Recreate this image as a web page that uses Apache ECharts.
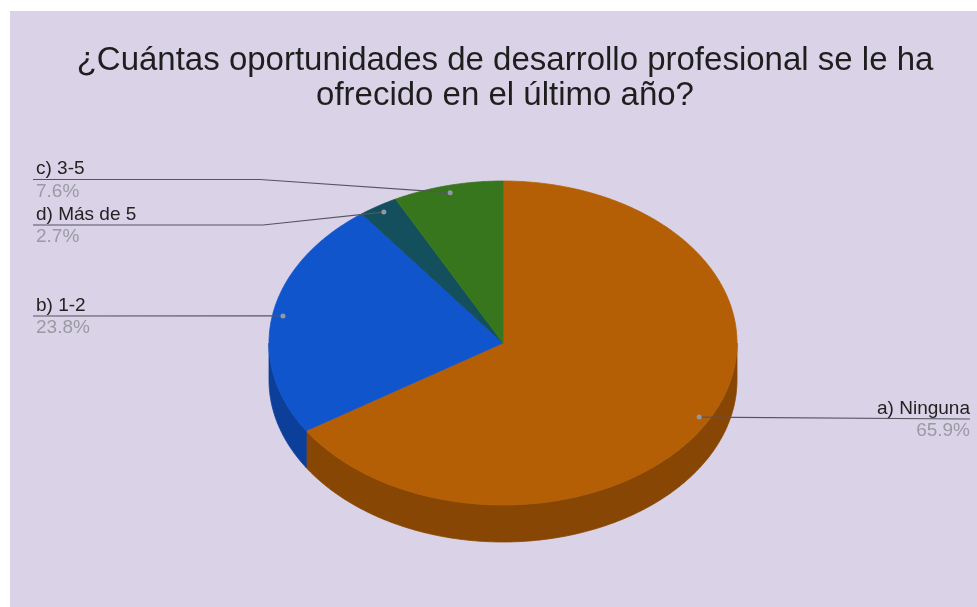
<!DOCTYPE html>
<html>
<head>
<meta charset="utf-8">
<script src="https://cdn.jsdelivr.net/npm/echarts@6/dist/echarts.min.js"></script>
<style>
  html, body { margin: 0; padding: 0; background: #ffffff; }
  #chart { position: absolute; left: 10px; top: 11px; width: 967px; height: 596px; }
</style>
</head>
<body>
<div id="chart"></div>
<script>
// Survey answers, in the order the slices run clockwise from 12 o'clock
const categories = ['a) Ninguna', 'b) 1-2', 'd) Más de 5', 'c) 3-5'];
const shares = [65.9, 23.8, 2.7, 7.6];
const titleText = '¿Cuántas oportunidades de desarrollo profesional se le ha\nofrecido en el último año?';

// Slice colours (top face and darker rim)
const topColors = ['#b45f06', '#1155cc', '#134f5c', '#38761d'];
const sideColors = ['#874604', '#0c3f9a', '#0d3a44', '#285615'];

// Tilted-disc geometry (chart pixel space)
const CX = 493, CY = 332, RX = 234, RY = 162, DEPTH = 37;
const DOT_R = 0.955;

// Leader-line placement for each label
const labelLayout = [
  { side: 'right', lineY: 408, endX: 960, textX: 960 },
  { side: 'left', lineY: 305, endX: 23, textX: 26 },
  { side: 'left', lineY: 214, endX: 23, textX: 26, elbowX: 253 },
  { side: 'left', lineY: 168.5, endX: 23, textX: 26, elbowX: 250 }
];

const FONT = "'Liberation Sans', Arial, sans-serif";
const total = shares.reduce((a, b) => a + b, 0);

function pt(theta, f, dy) {
  return [CX + RX * f * Math.sin(theta), CY - RY * f * Math.cos(theta) + (dy || 0)];
}
function arc(t0, t1, dy) {
  const n = Math.max(2, Math.ceil((t1 - t0) / (Math.PI / 360)));
  const out = [];
  for (let k = 0; k <= n; k++) out.push(pt(t0 + (t1 - t0) * k / n, 1, dy));
  return out;
}
function sliceAngles(i, v) {
  let before = 0;
  for (let k = 0; k < i; k++) before += shares[k];
  return [before / total * 2 * Math.PI, (before + v) / total * 2 * Math.PI];
}

function renderSlice(params, api) {
  const i = params.dataIndex;
  const [t0, t1] = sliceAngles(i, api.value(0));
  const children = [];
  const a = Math.max(t0, Math.PI / 2), b = Math.min(t1, 3 * Math.PI / 2);
  if (a < b) {
    const edge = arc(a, b, 0);
    const lower = arc(a, b, DEPTH).reverse();
    children.push({
      type: 'polygon',
      shape: { points: edge.concat(lower) },
      style: { fill: sideColors[i], stroke: sideColors[i], lineWidth: 0.8 }
    });
  }
  children.push({
    type: 'polygon',
    shape: { points: [[CX, CY]].concat(arc(t0, t1, 0)) },
    style: { fill: topColors[i], stroke: topColors[i], lineWidth: 0.8, lineJoin: 'round' }
  });
  return { type: 'group', children };
}

function renderLabel(params, api) {
  const i = params.dataIndex;
  const v = api.value(0);
  const [t0, t1] = sliceAngles(i, v);
  const dot = pt((t0 + t1) / 2, DOT_R, 0);
  const L = labelLayout[i];
  const pts = [[L.endX, L.lineY]];
  if (L.elbowX !== undefined) pts.push([L.elbowX, L.lineY]);
  pts.push(dot);
  const align = L.side === 'left' ? 'left' : 'right';
  return {
    type: 'group',
    children: [
      { type: 'polyline', shape: { points: pts }, style: { stroke: '#555560', lineWidth: 1.2, fill: null } },
      { type: 'circle', shape: { cx: dot[0], cy: dot[1], r: 2.5 }, style: { fill: '#8f9aa6' } },
      { type: 'text', x: L.textX, y: L.lineY - 1,
        style: { text: categories[i], fill: '#222222', font: '19px ' + FONT, textAlign: align, textVerticalAlign: 'bottom' } },
      { type: 'text', x: L.textX, y: L.lineY + 2.5,
        style: { text: (v / total * 100).toFixed(1) + '%', fill: '#9a9aa2', font: '19px ' + FONT, textAlign: align, textVerticalAlign: 'top' } }
    ]
  };
}

const chart = echarts.init(document.getElementById('chart'), null, { renderer: 'canvas' });
chart.setOption({
  backgroundColor: '#dad3e8',
  animation: false,
  graphic: [{
    type: 'text', x: 495, y: 32,
    style: { text: titleText, fill: '#1e1e1e', font: '33px ' + FONT, textAlign: 'center', textVerticalAlign: 'top', lineHeight: 35 }
  }],
  series: [
    { type: 'custom', coordinateSystem: 'none', renderItem: renderSlice, data: shares.map(v => [v]), z: 2 },
    { type: 'custom', coordinateSystem: 'none', renderItem: renderLabel, data: shares.map(v => [v]), z: 3 }
  ]
});
</script>
</body>
</html>
